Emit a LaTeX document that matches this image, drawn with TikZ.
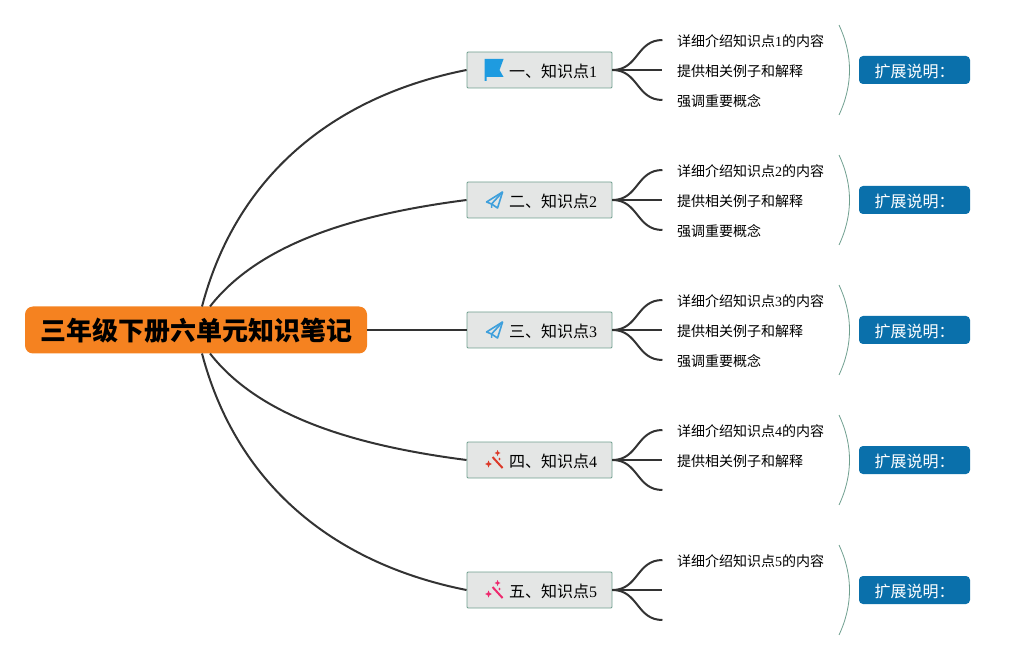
\documentclass[tikz,border=0pt]{standalone}
\usepackage{fontspec}
\usetikzlibrary{calc}
\setmainfont{Noto Sans CJK SC}
\newfontfamily\digitfont{Liberation Serif}
\definecolor{rootorange}{HTML}{F58220}
\definecolor{topicgrey}{HTML}{E4E6E5}
\definecolor{topicedge}{HTML}{6F9F8F}
\definecolor{notebluefill}{HTML}{0A70AB}
\definecolor{linedark}{HTML}{333333}
\definecolor{flagblue}{HTML}{1E9BE0}
\definecolor{planeblue}{HTML}{3FA0DC}
\definecolor{wandred}{HTML}{DC3A2A}
\definecolor{wandpink}{HTML}{EE2A6E}
\newcommand{\lowertext}[1]{\raisebox{-1pt}[\height][\depth]{#1}}
\tikzset{
    rootbox/.style={fill=rootorange, rounded corners=8pt, minimum width=342pt, minimum height=47pt, inner sep=0pt, font=\fontsize{26}{30}\selectfont\bfseries},
    topicbox/.style={draw=topicedge, line width=0.9pt, fill=topicgrey, rounded corners=1pt, minimum width=145pt, minimum height=36pt, inner sep=0pt, font=\fontsize{16}{20}\selectfont},
    subtext/.style={anchor=west, inner sep=0pt, font=\fontsize{14}{18}\selectfont},
    notebox/.style={fill=notebluefill, text=white, rounded corners=4pt, minimum width=111pt, minimum height=28pt, inner sep=0pt, font=\fontsize{16}{20}\selectfont},
    branch/.style={draw=linedark, line width=2pt},
    twig/.style={draw=linedark, line width=2pt},
    bracket/.style={draw=topicedge, line width=0.8pt},
    pics/flagicon/.style={code={
        \fill[flagblue] (-10,-11) -- (9,-11) -- (5,0) -- (9,7) -- (-8,7) -- (-8,11) -- (-10,11) -- cycle;
    }},
    pics/planeicon/.style={code={
        \draw[planeblue, line width=1.6pt, line join=round] (8,-8) -- (-8,2) -- (-3,4) -- (3,8) -- cycle;
        \draw[planeblue, line width=1.6pt] (8,-8) -- (-3,4) -- (-3,8);
    }},
    pics/wandicon/.style={code={
        \draw[#1, line width=2pt] (-2,-3) -- (8,8);
        \foreach \sx/\sy/\sr in {3/-7/3, -6/4/3.5, 5/-1/1.5} {
            \fill[#1] (\sx-\sr,\sy) -- (\sx-0.3*\sr,\sy-0.3*\sr) -- (\sx,\sy-\sr) -- (\sx+0.3*\sr,\sy-0.3*\sr) -- (\sx+\sr,\sy) -- (\sx+0.3*\sr,\sy+0.3*\sr) -- (\sx,\sy+\sr) -- (\sx-0.3*\sr,\sy+0.3*\sr) -- cycle;
        }
    }},
}
\begin{document}
\begin{tikzpicture}[x=1pt, y=-1pt]
    \useasboundingbox (0,0) rectangle (1015,660);
    % Central node
    \node[rootbox] (root) at (196,330) {\lowertext{三年级下册六单元知识笔记}};
    % Topic nodes
    \foreach \n/\yy/\lbl/\num in {1/70/一/1, 2/200/二/2, 3/330/三/3, 4/460/四/4, 5/590/五/5} {
        \node[topicbox] (topic\n) at (539.5,\yy) {\hspace*{27pt}\lowertext{\lbl、知识点{\digitfont\num}}};
        \node[notebox] (note\n) at (914.5,\yy) {\lowertext{扩展说明：}};
        % Three twigs to the right
        \coordinate (twiga\n) at ($(topic\n.east)+(50,-30)$);
        \coordinate (twigb\n) at ($(topic\n.east)+(50,0)$);
        \coordinate (twigc\n) at ($(topic\n.east)+(50,30)$);
        \draw[twig] (topic\n.east) .. controls +(26,0) and +(-26,0) .. (twiga\n);
        \draw[twig] (topic\n.east) -- (twigb\n);
        \draw[twig] (topic\n.east) .. controls +(26,0) and +(-26,0) .. (twigc\n);
        % Bracket before the note
        \coordinate (brtop\n) at (839,\yy-45);
        \coordinate (brbot\n) at (839,\yy+45);
        \draw[bracket] (brtop\n) .. controls +(14,30) and +(14,-30) .. (brbot\n);
    }
    % Icons
    \pic at ($(topic1.west)+(28,0)$) {flagicon};
    \pic at ($(topic2.west)+(28,0)$) {planeicon};
    \pic at ($(topic3.west)+(28,0)$) {planeicon};
    \pic at ($(topic4.west)+(28,0)$) {wandicon=wandred};
    \pic at ($(topic5.west)+(28,0)$) {wandicon=wandpink};
    % Main branches
    \coordinate (rootna) at (202,306.5);
    \coordinate (rootnb) at (210,306.5);
    \coordinate (rootsa) at (202,353.5);
    \coordinate (rootsb) at (210,353.5);
    \draw[branch] (rootna) .. controls (238,170) and (340,95) .. (topic1.west);
    \draw[branch] (rootnb) .. controls (258,245) and (350,215) .. (topic2.west);
    \draw[branch] (root.east) -- (topic3.west);
    \draw[branch] (rootsb) .. controls (258,415) and (350,445) .. (topic4.west);
    \draw[branch] (rootsa) .. controls (238,490) and (340,565) .. (topic5.west);
    % Twig labels
    \foreach \n/\yy/\num in {1/41/1, 2/171/2, 3/301/3, 4/431/4, 5/561/5}
        \node[subtext] (first\n) at (677,\yy) {详细介绍知识点{\digitfont\num}的内容};
    \foreach \n/\yy in {1/71, 2/201, 3/331, 4/461}
        \node[subtext] (second\n) at (677,\yy) {提供相关例子和解释};
    \foreach \n/\yy in {1/101, 2/231, 3/361}
        \node[subtext] (third\n) at (677,\yy) {强调重要概念};
\end{tikzpicture}
\end{document}
